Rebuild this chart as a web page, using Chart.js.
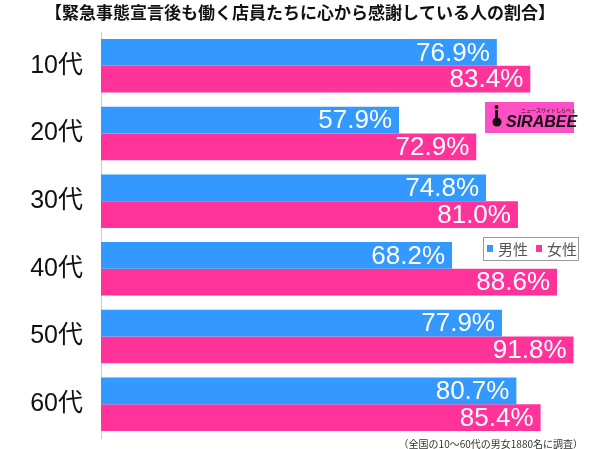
<!DOCTYPE html>
<html lang="ja">
<head>
  <meta charset="UTF-8">
  <title>店員たちに心から感謝している人の割合</title>
  <script src="https://cdn.jsdelivr.net/npm/chart.js"></script>
  <style>
    html, body {
      margin: 0;
      padding: 0;
      background: #fff;
      overflow: hidden;
    }
    canvas {
      display: block;
    }
  </style>
</head>
<body>
  <canvas id="grafico" width="600" height="449"></canvas>

  <script>
    const titulo = '【緊急事態宣言後も働く店員たちに心から感謝している人の割合】';
    const nota = '（全国の10～60代の男女1880名に調査）';
    const categorias = ['10代', '20代', '30代', '40代', '50代', '60代'];
    const nomesSeries = ['男性', '女性'];
    const valoresHomens = [76.9, 57.9, 74.8, 68.2, 77.9, 80.7];
    const valoresMulheres = [83.4, 72.9, 81.0, 88.6, 91.8, 85.4];
    const cores = ['#3399ff', '#ff3399'];

    const FONTE = '"Liberation Sans", Arial, "Noto Sans CJK JP", sans-serif';
    const FONTE_JP = '"Noto Sans CJK JP", "Noto Sans", sans-serif';

    // rótulos brancos dentro das barras + título, nota, legenda e logo
    const extras = {
      id: 'extras',
      afterDatasetsDraw(chart) {
        const ctx = chart.ctx;
        ctx.save();
        ctx.fillStyle = '#fff';
        ctx.font = '26px ' + FONTE;
        ctx.textAlign = 'right';
        ctx.textBaseline = 'middle';
        chart.data.datasets.forEach((ds, i) => {
          chart.getDatasetMeta(i).data.forEach((bar, j) => {
            ctx.fillText(ds.data[j].toFixed(1) + '%', bar.x - 7, bar.y + 1);
          });
        });
        ctx.restore();
      },
      afterDraw(chart) {
        const ctx = chart.ctx;
        ctx.save();

        // título
        ctx.fillStyle = '#111';
        ctx.font = 'bold 17px ' + FONTE_JP;
        ctx.textAlign = 'center';
        ctx.textBaseline = 'middle';
        ctx.fillText(titulo, 300, 13);

        // nota
        ctx.fillStyle = '#333';
        ctx.font = '10px ' + FONTE_JP;
        ctx.textAlign = 'right';
        ctx.fillText(nota, 583, 444);

        // legenda
        ctx.fillStyle = '#fff';
        ctx.fillRect(483.5, 237.5, 95, 23);
        ctx.strokeStyle = '#999';
        ctx.lineWidth = 1;
        ctx.strokeRect(483.5, 237.5, 95, 23);
        ctx.font = '15px ' + FONTE_JP;
        ctx.textAlign = 'left';
        let lx = 487;
        nomesSeries.forEach((nome, i) => {
          ctx.fillStyle = cores[i];
          ctx.fillRect(lx, 245, 6, 7);
          ctx.fillStyle = '#555';
          ctx.fillText(nome, lx + 11, 249);
          lx += 49;
        });

        // logo
        ctx.fillStyle = '#ff4fc4';
        ctx.fillRect(485, 102, 89, 31);
        ctx.fillStyle = '#111';
        ctx.beginPath();
        ctx.arc(497, 122, 4.5, 0, Math.PI * 2);
        ctx.fill();
        ctx.fillRect(495, 110, 3, 10);
        ctx.beginPath();
        ctx.arc(496.5, 107, 2, 0, Math.PI * 2);
        ctx.fill();
        ctx.font = 'italic bold 16px ' + FONTE;
        ctx.textBaseline = 'alphabetic';
        ctx.fillText('SIRABEE', 506, 127);
        ctx.font = '5px ' + FONTE_JP;
        ctx.fillText('ニュースサイトしらべぇ', 521, 112);

        ctx.restore();
      }
    };

    const ctx = document.getElementById('grafico').getContext('2d');
    new Chart(ctx, {
      type: 'bar',
      data: {
        labels: categorias,
        datasets: [
          { label: nomesSeries[0], data: valoresHomens, backgroundColor: cores[0] },
          { label: nomesSeries[1], data: valoresMulheres, backgroundColor: cores[1] }
        ]
      },
      options: {
        indexAxis: 'y',
        responsive: false,
        animation: false,
        events: [],
        layout: { padding: { left: 0, top: 32, right: 10, bottom: 11 } },
        datasets: {
          bar: { categoryPercentage: 0.79, barPercentage: 1 }
        },
        plugins: {
          legend: { display: false },
          title: { display: false },
          tooltip: { enabled: false }
        },
        scales: {
          x: {
            display: false,
            min: 0,
            max: 95
          },
          y: {
            grid: { display: false },
            border: { display: true, color: '#cccccc', width: 1 },
            ticks: {
              color: '#111',
              padding: 10,
              font: { size: 25, family: FONTE }
            },
            afterFit(scale) {
              scale.width = 101;
              scale.paddingTop = 0;
              scale.paddingBottom = 0;
            }
          }
        }
      },
      plugins: [extras]
    });
  </script>
</body>
</html>
